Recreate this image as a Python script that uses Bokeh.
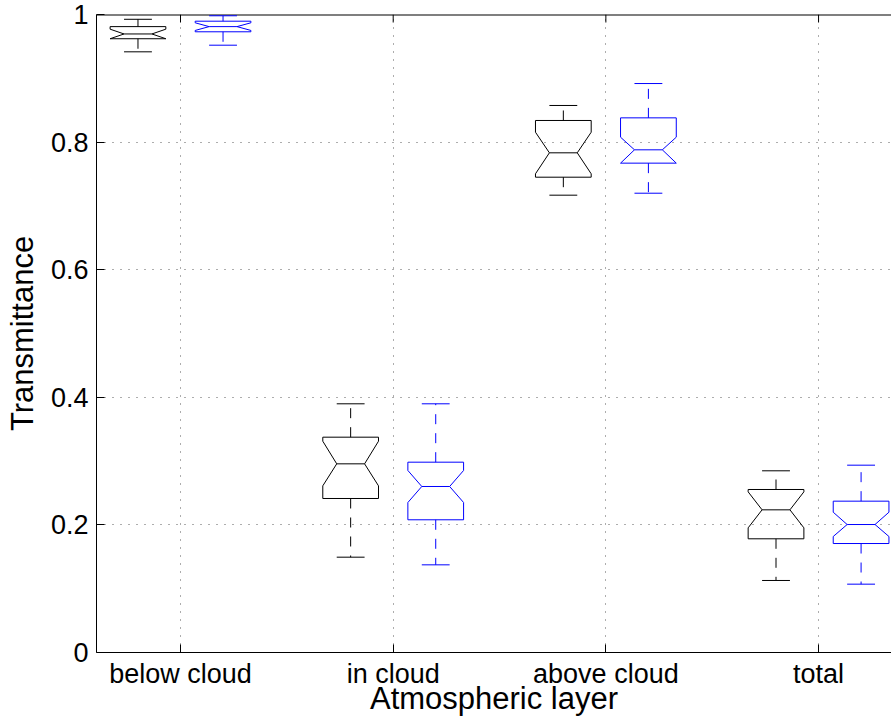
from bokeh.plotting import figure
from bokeh.models import FixedTicker, Range1d
from bokeh.embed import file_html
from bokeh.resources import INLINE

# ---------------- data ----------------
categories = ["below cloud", "in cloud", "above cloud", "total"]
cat_pos = [1, 2, 3, 4]
y_ticks = [0, 0.2, 0.4, 0.6, 0.8, 1]
y_tick_labels = ["0", "0.2", "0.4", "0.6", "0.8", "1"]

# first series (black)
black_whisker_hi = [0.9925, 0.3898, 0.8574, 0.2848]
black_q3 = [0.9810, 0.3375, 0.8339, 0.2555]
black_notch_hi = [0.9770, 0.3312, 0.8155, 0.2518]
black_median = [0.9695, 0.2957, 0.7832, 0.2236]
black_notch_lo = [0.9620, 0.2612, 0.7503, 0.1954]
black_q1 = [0.9620, 0.2414, 0.7450, 0.1782]
black_whisker_lo = [0.9415, 0.1494, 0.7168, 0.1129]

# second series (blue)
blue_whisker_hi = [0.9980, 0.3898, 0.8918, 0.2936]
blue_q3 = [0.9895, 0.2983, 0.8380, 0.2372]
blue_notch_hi = [0.9870, 0.2853, 0.8077, 0.2199]
blue_median = [0.9810, 0.2602, 0.7879, 0.2006]
blue_notch_lo = [0.9750, 0.2351, 0.7670, 0.1818]
blue_q1 = [0.9729, 0.2080, 0.7670, 0.1708]
blue_whisker_lo = [0.9519, 0.1374, 0.7199, 0.1071]

series = [
    dict(color="#000000", offset=-0.2, whi=black_whisker_hi, q3=black_q3, nhi=black_notch_hi,
         med=black_median, nlo=black_notch_lo, q1=black_q1, wlo=black_whisker_lo),
    dict(color="#0000ff", offset=0.2, whi=blue_whisker_hi, q3=blue_q3, nhi=blue_notch_hi,
         med=blue_median, nlo=blue_notch_lo, q1=blue_q1, wlo=blue_whisker_lo),
]

HALF_W = 0.131  # box half width in x units
FONT = "Liberation Sans"
X_START, X_END = 0.605, 4.343
FRAME_H = 638
TICK_PX = 8

p = figure(width=891, height=719,
           x_range=Range1d(X_START, X_END), y_range=Range1d(0, 1),
           output_backend="svg", toolbar_location=None,
           min_border_left=96, min_border_right=0, min_border_top=14, min_border_bottom=67)
p.outline_line_color = None
p.background_fill_color = "white"
p.border_fill_color = "white"

# grids
p.xgrid.ticker = FixedTicker(ticks=cat_pos)
p.ygrid.ticker = FixedTicker(ticks=y_ticks)
for g in (p.xgrid, p.ygrid):
    g.grid_line_color = "#333333"
    g.grid_line_alpha = 0.8
    g.grid_line_dash = "1 7"
    g.grid_line_width = 1

# x axis
xa = p.xaxis[0]
xa.ticker = FixedTicker(ticks=cat_pos)
xa.major_label_overrides = {pos: lab for pos, lab in zip(cat_pos, categories)}
xa.axis_label = "Atmospheric layer"
# y axis
ya = p.yaxis[0]
ya.ticker = FixedTicker(ticks=y_ticks)
ya.major_label_overrides = {t: lab for t, lab in zip(y_ticks, y_tick_labels)}
ya.axis_label = "Transmittance"

for ax in (xa, ya):
    ax.major_tick_in = TICK_PX
    ax.major_tick_out = 0
    ax.minor_tick_line_color = None
    ax.axis_line_color = "black"
    ax.major_tick_line_color = "black"
    ax.major_label_text_font = FONT
    ax.major_label_text_font_size = "27px"
    ax.major_label_text_color = "black"
    ax.axis_label_text_font = FONT
    ax.axis_label_text_font_size = "31px"
    ax.axis_label_text_font_style = "normal"
    ax.axis_label_text_color = "black"
xa.major_label_standoff = 6
xa.axis_label_text_line_height = 1.0
xa.axis_label_standoff = -11
ya.major_label_standoff = 8
ya.axis_label_standoff = 8

# top border of the axes box, with inward ticks
p.segment(x0=[X_START], x1=[X_END], y0=[1], y1=[1], line_color="black", line_width=2)
p.segment(x0=cat_pos, x1=cat_pos, y0=[1] * len(cat_pos),
          y1=[1 - TICK_PX / FRAME_H] * len(cat_pos), line_color="black", line_width=1)

# boxes
for s in series:
    xs_poly, ys_poly = [], []
    wx, wy = [], []
    cap_x0, cap_x1, cap_y = [], [], []
    med_x0, med_x1, med_y = [], [], []
    for i, c in enumerate(cat_pos):
        x = c + s["offset"]
        L, R = x - HALF_W, x + HALF_W
        l2, r2 = x - HALF_W / 2, x + HALF_W / 2
        xs_poly.append([L, L, l2, L, L, R, R, r2, R, R])
        ys_poly.append([s["q1"][i], s["nlo"][i], s["med"][i], s["nhi"][i], s["q3"][i],
                        s["q3"][i], s["nhi"][i], s["med"][i], s["nlo"][i], s["q1"][i]])
        wx += [[x, x], [x, x]]
        wy += [[s["q3"][i], s["whi"][i]], [s["q1"][i], s["wlo"][i]]]
        cap_x0 += [l2, l2]
        cap_x1 += [r2, r2]
        cap_y += [s["whi"][i], s["wlo"][i]]
        med_x0.append(l2)
        med_x1.append(r2)
        med_y.append(s["med"][i])
    p.patches(xs=xs_poly, ys=ys_poly, fill_color=None, line_color=s["color"], line_width=1)
    p.multi_line(xs=wx, ys=wy, line_color=s["color"], line_width=1, line_dash="10 9")
    p.segment(x0=cap_x0, x1=cap_x1, y0=cap_y, y1=cap_y, line_color=s["color"], line_width=1)
    p.segment(x0=med_x0, x1=med_x1, y0=med_y, y1=med_y, line_color=s["color"], line_width=1)

open("out.html", "w").write(file_html(p, INLINE))
